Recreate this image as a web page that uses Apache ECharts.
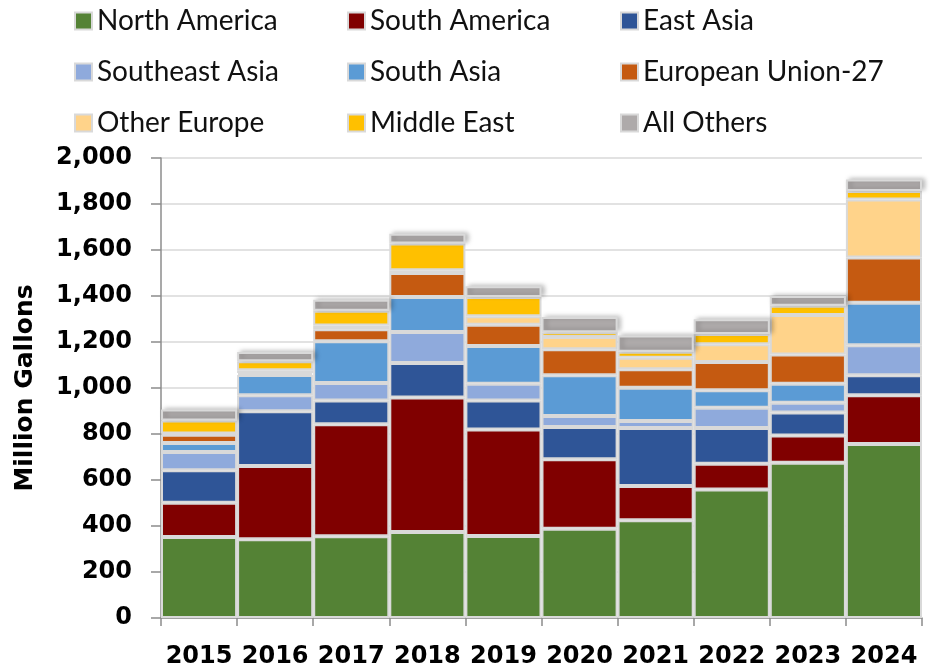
<!DOCTYPE html>
<html>
<head>
<meta charset="utf-8">
<script src="https://cdn.jsdelivr.net/npm/echarts@6/dist/echarts.min.js"></script>
<style>
  html, body { margin: 0; padding: 0; background: #fff; }
  #chart { width: 931px; height: 669px; }
</style>
</head>
<body>
<div id="chart"></div>
<script>
// years on the x axis
var years = ["2015", "2016", "2017", "2018", "2019", "2020", "2021", "2022", "2023", "2024"];

// million gallons per region
var northAmerica  = [352, 342, 355, 374, 357, 388, 425, 559, 675, 757];
var southAmerica  = [149, 319, 487, 585, 463, 302, 149, 112, 119, 211];
var eastAsia      = [141, 238, 104, 150, 126, 140, 252, 155, 100, 87];
var southeastAsia = [80, 69, 76, 134, 73, 48, 31, 88, 42, 131];
var southAsia     = [39, 89, 181, 153, 164, 177, 144, 76, 83, 185];
var eu27          = [36, 8, 52, 104, 92, 113, 80, 123, 127, 196];
var otherEurope   = [5, 12, 17, 12, 37, 54, 51, 77, 171, 253];
var middleEast    = [57, 39, 64, 116, 84, 20, 26, 45, 41, 37];
var allOthers     = [47, 41, 48, 43, 46, 67, 70, 64, 42, 50];

var regions = [
  { name: "North America", data: northAmerica, color: "#548235" },
  { name: "South America", data: southAmerica, color: "#800000" },
  { name: "East Asia", data: eastAsia, color: "#2F5597" },
  { name: "Southeast Asia", data: southeastAsia, color: "#8FAADC" },
  { name: "South Asia", data: southAsia, color: "#5B9BD5" },
  { name: "European Union-27", data: eu27, color: "#C55A11" },
  { name: "Other Europe", data: otherEurope, color: "#FFD38A" },
  { name: "Middle East", data: middleEast, color: "#FFC000" },
  { name: "All Others", data: allOthers, color: "#AEAAAA" }
];

var legendText = {
  fontFamily: "Lato",
  fontSize: 28,
  lineHeight: 28,
  color: "#111"
};

function legendColumn(names, left) {
  return {
    orient: "vertical",
    left: left,
    top: 2,
    itemWidth: 17,
    itemHeight: 17,
    itemGap: 23,
    itemTextGap: 9,
    icon: "rect",
    textStyle: legendText,
    data: names
  };
}

var chart = echarts.init(document.getElementById("chart"));

chart.setOption({
  animation: false,
  legend: [
    legendColumn(["North America", "Southeast Asia", "Other Europe"], 69),
    legendColumn(["South America", "South Asia", "Middle East"], 342),
    legendColumn(["East Asia", "European Union-27", "All Others"], 615)
  ],
  grid: {
    left: 161,
    right: 9,
    top: 158,
    bottom: 51
  },
  xAxis: {
    type: "category",
    data: years,
    axisLine: { lineStyle: { color: "#8c8c8c", width: 1.5 } },
    axisTick: { show: true, length: 8, lineStyle: { color: "#8c8c8c", width: 1.5 } },
    axisLabel: {
      interval: 0,
      margin: 27,
      fontFamily: "DejaVu Sans",
      fontWeight: "bold",
      fontSize: 24,
      color: "#000"
    }
  },
  yAxis: {
    type: "value",
    min: 0,
    max: 2000,
    interval: 200,
    name: "Million Gallons",
    nameLocation: "middle",
    nameRotate: 90,
    nameGap: 123,
    nameTextStyle: {
      fontFamily: "DejaVu Sans",
      fontWeight: "bold",
      fontSize: 25,
      color: "#000"
    },
    axisLine: { show: true, lineStyle: { color: "#8c8c8c", width: 1.5 } },
    axisTick: { show: true, length: 10, lineStyle: { color: "#8c8c8c", width: 1.5 } },
    splitLine: { lineStyle: { color: "#d9d9d9", width: 1.5 } },
    axisLabel: {
      margin: 29,
      fontFamily: "DejaVu Sans",
      fontWeight: "bold",
      fontSize: 24,
      color: "#000",
      formatter: function (v) { return v.toLocaleString("en-US"); }
    }
  },
  series: regions.map(function (r, i) {
    var top = i === regions.length - 1;
    return {
      name: r.name,
      type: "bar",
      stack: "total",
      barCategoryGap: "0%",
      data: r.data,
      itemStyle: {
        color: r.color,
        borderColor: "#d9d9d9",
        borderWidth: 2,
        // only the top segment casts the faint shadow seen on the bar tops
        shadowColor: top ? "rgba(0,0,0,0.25)" : "transparent",
        shadowBlur: top ? 5 : 0,
        shadowOffsetX: top ? 3 : 0,
        shadowOffsetY: top ? -1 : 0
      }
    };
  })
});
</script>
</body>
</html>
